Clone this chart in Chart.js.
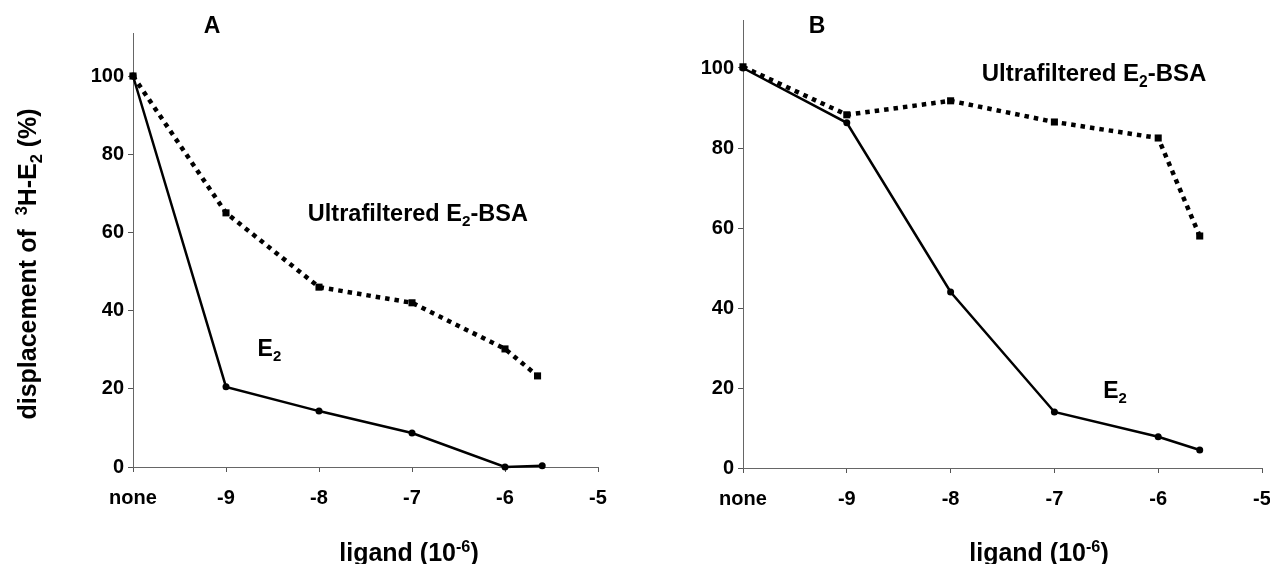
<!DOCTYPE html>
<html>
<head>
<meta charset="utf-8">
<script src="https://cdn.jsdelivr.net/npm/chart.js@4.4.1/dist/chart.umd.min.js"></script>
<style>
  html, body { margin: 0; padding: 0; background: #fff; overflow: hidden; width: 1270px; height: 564px; }
  canvas { position: absolute; top: 0; }
  #chartA { left: 0; }
  #chartB { left: 635px; }
</style>
</head>
<body>
<canvas id="chartA" width="635" height="564"></canvas>
<canvas id="chartB" width="680" height="564"></canvas>
<script>
'use strict'

// DATA
const xTicks = [-10, -9, -8, -7, -6, -5];
const xTickLabels = ['none', '-9', '-8', '-7', '-6', '-5'];
const yTicks = [0, 20, 40, 60, 80, 100];

// panel A
const aE2X = [-10, -9, -8, -7, -6, -5.6];
const aE2 = [100, 20.5, 14.3, 8.7, 0, 0.3];
const aBsaX = [-10, -9, -8, -7, -6, -5.65];
const aBsa = [100, 65, 46, 42, 30.2, 23.3];

// panel B
const bE2X = [-10, -9, -8, -7, -6, -5.6];
const bE2 = [100, 86.3, 44, 14, 7.8, 4.5];
const bBsaX = [-10, -9, -8, -7, -6, -5.6];
const bBsa = [100.3, 88.3, 91.8, 86.5, 82.5, 58];

const FONT = "'Liberation Sans', Arial, Helvetica, sans-serif";

function toPoints(xs, ys) {
  return xs.map((x, i) => ({ x: x, y: ys[i] }));
}

// draw text made of parts: [text, 'sub' | 'sup' | undefined]
function drawRich(ctx, parts, x, y, size, align) {
  let widths = parts.map(p => {
    ctx.font = 'bold ' + (p[1] ? size * 0.65 : size) + 'px ' + FONT;
    return ctx.measureText(p[0]).width;
  });
  let total = widths.reduce((a, b) => a + b, 0);
  let cx = align === 'center' ? x - total / 2 : x;
  ctx.fillStyle = '#000';
  ctx.textBaseline = 'alphabetic';
  ctx.textAlign = 'left';
  parts.forEach((p, i) => {
    let fs = p[1] ? size * 0.65 : size;
    let dy = 0;
    if (p[1] === 'sub') dy = size * 0.22;
    if (p[1] === 'sup') dy = -size * 0.38;
    ctx.font = 'bold ' + fs + 'px ' + FONT;
    ctx.fillText(p[0], cx, y + dy);
    cx += widths[i];
  });
}

const bsaText = [['Ultrafiltered E'], ['2', 'sub'], ['-BSA']];
const e2Text = [['E'], ['2', 'sub']];

const labelsPlugin = {
  id: 'labels',
  afterDraw(chart) {
    const ctx = chart.ctx;
    const o = chart.options.plugins.labels;
    const xs = chart.scales.x;
    const ys = chart.scales.y;
    ctx.save();
    // panel letter
    drawRich(ctx, [[o.letter]], o.letterX, 33, 23, 'center');
    // series labels in data coords
    o.notes.forEach(n => {
      drawRich(ctx, n.parts, xs.getPixelForValue(n.x), ys.getPixelForValue(n.y) + n.size * 0.36, n.size, 'left');
    });
    // x title
    drawRich(ctx, [['ligand (10'], ['-6', 'sup'], [')']], o.xTitleX, 561, 25, 'center');
    // y title
    if (o.yTitle) {
      ctx.translate(27, 264);
      ctx.rotate(-Math.PI / 2);
      drawRich(ctx, [['displacement of  '], ['3', 'sup'], ['H-E'], ['2', 'sub'], [' (%)']], 0, 9, 25, 'center');
    }
    ctx.restore();
  }
};

function makePanel(id, e2x, e2, bsax, bsa, cfg) {
  const tickFont = { family: FONT, size: 20, weight: 'bold' };
  return new Chart(document.getElementById(id), {
    type: 'line',
    data: {
      datasets: [
        {
          data: toPoints(e2x, e2),
          borderColor: '#000',
          backgroundColor: '#000',
          borderWidth: 2.5,
          pointRadius: 3.5,
          pointBorderWidth: 0,
          pointBackgroundColor: '#000',
          tension: 0,
          clip: false
        },
        {
          data: toPoints(bsax, bsa),
          borderColor: '#000',
          backgroundColor: '#000',
          borderWidth: 4.5,
          borderDash: [4.5, 5],
          pointStyle: 'rect',
          pointRadius: 5,
          pointBorderWidth: 0,
          pointBackgroundColor: '#000',
          tension: 0,
          clip: false
        }
      ]
    },
    options: {
      responsive: false,
      animation: false,
      layout: { padding: { top: cfg.top, right: cfg.right, left: 0, bottom: 0 } },
      plugins: {
        legend: { display: false },
        tooltip: { enabled: false },
        labels: cfg.labels
      },
      scales: {
        x: {
          type: 'linear',
          min: -10,
          max: -5,
          afterBuildTicks: s => { s.ticks = xTicks.map(v => ({ value: v })); },
          afterFit: s => { s.height = cfg.xHeight; },
          ticks: {
            callback: (v, i) => xTickLabels[i],
            font: tickFont,
            color: '#000',
            padding: 14,
            maxRotation: 0,
            autoSkip: false
          },
          grid: { drawOnChartArea: false, tickLength: 5, color: '#555' },
          border: { color: '#666', width: 1 }
        },
        y: {
          min: 0,
          max: cfg.yMax,
          afterBuildTicks: s => { s.ticks = yTicks.map(v => ({ value: v })); },
          afterFit: s => { s.width = cfg.yWidth; },
          ticks: { font: tickFont, color: '#000', padding: 4 },
          grid: { drawOnChartArea: false, tickLength: 5, color: '#555' },
          border: { color: '#666', width: 1 }
        }
      }
    },
    plugins: [labelsPlugin]
  });
}

makePanel('chartA', aE2X, aE2, aBsaX, aBsa, {
  top: 33, right: 37, xHeight: 97, yWidth: 133, yMax: 111,
  labels: {
    letter: 'A', letterX: 212, xTitleX: 409, yTitle: true,
    notes: [
      { parts: bsaText, x: -8.12, y: 65, size: 23.5 },
      { parts: e2Text, x: -8.66, y: 30.5, size: 23 }
    ]
  }
});

makePanel('chartB', bE2X, bE2, bBsaX, bBsa, {
  top: 20, right: 53, xHeight: 96, yWidth: 108, yMax: 112,
  labels: {
    letter: 'B', letterX: 182, xTitleX: 404, yTitle: false,
    notes: [
      { parts: bsaText, x: -7.70, y: 98.8, size: 24 },
      { parts: e2Text, x: -6.53, y: 19.5, size: 23 }
    ]
  }
});
</script>
</body>
</html>
